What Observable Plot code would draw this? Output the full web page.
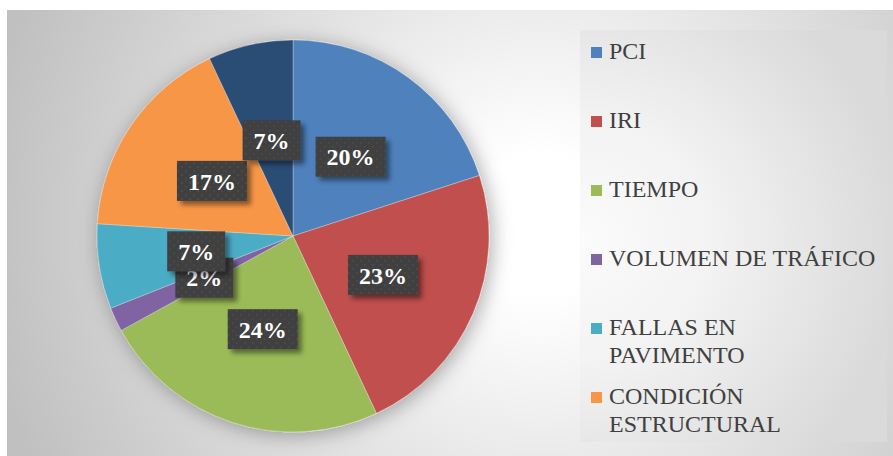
<!DOCTYPE html>
<html><head><meta charset="utf-8">
<script src="https://cdn.jsdelivr.net/npm/d3@7"></script>
<script src="https://cdn.jsdelivr.net/npm/@observablehq/plot@0.6"></script>
<style>
html,body{margin:0;padding:0;background:#fff;}
#wrap{position:relative;width:893px;height:456px;overflow:hidden;background:#fff;}
#bg{position:absolute;left:7px;top:10px;width:886px;height:446px;
  background:radial-gradient(circle at 533px 215px,#ffffff 0px,#ffffff 70px,#c0c0c0 560px);}
#legbox{position:absolute;left:580px;top:30px;width:307px;height:412px;
  background:radial-gradient(ellipse 320px 300px at 0px 210px,#fbfbfb 0%,#f3f3f3 40%,#dadada 100%);}
#chart{position:absolute;left:0;top:0;}
.leg{position:absolute;left:609px;width:280px;white-space:pre-line;font-family:"Liberation Serif","Times New Roman",serif;font-size:24px;color:#404040;line-height:28px;}
.sw{position:absolute;left:591px;width:11px;height:11px;}
</style>
</head><body>
<div id="wrap"><div id="bg"></div><div id="legbox"></div><div id="chart"></div></div>
<script>
const categories = ["PCI","IRI","TIEMPO","VOLUMEN DE TRÁFICO","FALLAS EN PAVIMENTO","CONDICIÓN ESTRUCTURAL","OTROS"];
const legendLabels = ["PCI","IRI","TIEMPO","VOLUMEN DE TRÁFICO","FALLAS EN\nPAVIMENTO","CONDICIÓN\nESTRUCTURAL"];
const values = [20,23,24,2,7,17,7];
const labels = ["20%","23%","24%","2%","7%","17%","7%"];
const colors = ["#4F81BD","#C0504D","#9BBB59","#8064A2","#4BACC6","#F79646","#2C4D75"];

const W = 893, H = 456, CX = 293, CY = 236, R = 196;
const color = Plot.scale({color:{type:"ordinal", domain:categories, range:colors}});
const data = categories.map((name,i)=>({name, value:values[i], label:labels[i]}));

const canvas = document.createElement("canvas");
const cx2 = canvas.getContext("2d");
cx2.font = "bold 24px 'Liberation Serif'";

function pieMark(index, scales, vals, dims) {
  const g = d3.create("svg:g");
  const defs = g.append("defs");
  const f1 = defs.append("filter").attr("id","pieShadow").attr("x","-20%").attr("y","-20%").attr("width","140%").attr("height","140%");
  f1.append("feDropShadow").attr("dx",3).attr("dy",3).attr("stdDeviation",10).attr("flood-color","#000").attr("flood-opacity",0.32);
  const f2 = defs.append("filter").attr("id","boxShadow").attr("x","-30%").attr("y","-30%").attr("width","170%").attr("height","180%");
  f2.append("feDropShadow").attr("dx",4).attr("dy",4).attr("stdDeviation",2.5).attr("flood-color","#000").attr("flood-opacity",0.45);
  const pat = defs.append("pattern").attr("id","dots").attr("patternUnits","userSpaceOnUse").attr("width",8).attr("height",8);
  pat.append("rect").attr("width",8).attr("height",8).attr("fill","#3f3f3f");
  pat.append("circle").attr("cx",2).attr("cy",2).attr("r",1).attr("fill","#4e4e4e");
  pat.append("circle").attr("cx",6).attr("cy",6).attr("r",1).attr("fill","#4e4e4e");

  const pie = d3.pie().sort(null).value(d=>d.value)(data);
  const arc = d3.arc().innerRadius(0).outerRadius(R);
  const slices = g.append("g").attr("transform",`translate(${CX},${CY})`).attr("filter","url(#pieShadow)");
  slices.selectAll("path").data(pie).join("path")
    .attr("d", arc)
    .attr("fill", d=>color.apply(d.data.name))
    .attr("stroke","#ffffff").attr("stroke-opacity",0.35).attr("stroke-width",0.8);

  const lab = g.append("g").attr("transform",`translate(${CX},${CY})`);
  pie.forEach(d=>{
    const [x,y] = arc.centroid(d);
    const tw = cx2.measureText(d.data.label).width;
    const bw = tw + 22, bh = 40;
    const lg = lab.append("g").attr("transform",`translate(${x},${y})`);
    lg.append("rect").attr("x",-bw/2).attr("y",-bh/2).attr("width",bw).attr("height",bh)
      .attr("fill","url(#dots)").attr("filter","url(#boxShadow)");
    lg.append("text").attr("text-anchor","middle").attr("dy","0.36em")
      .attr("fill","#fff").attr("font-family","'Liberation Serif','Times New Roman',serif")
      .attr("font-weight","bold").attr("font-size",24).text(d.data.label);
  });
  return g.node();
}

const plot = Plot.plot({
  width: W, height: H, margin: 0,
  style: {background:"transparent", overflow:"visible"},
  marks: [pieMark]
});
document.getElementById("chart").appendChild(plot);

const wrap = document.getElementById("wrap");
const legTop = 37, legStep = 69;
legendLabels.forEach((txt,i)=>{
  const top = legTop + i*legStep;
  const sw = document.createElement("div");
  sw.className = "sw"; sw.style.top = (top+10)+"px"; sw.style.background = color.apply(categories[i]);
  wrap.appendChild(sw);
  const t = document.createElement("div");
  t.className = "leg"; t.style.top = top+"px"; t.textContent = txt;
  wrap.appendChild(t);
});
</script>
</body></html>
